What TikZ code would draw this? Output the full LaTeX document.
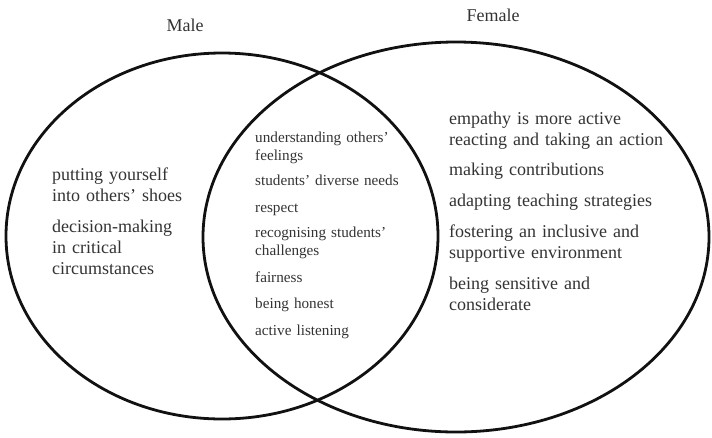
\documentclass[tikz,border=0pt]{standalone}
\usepackage{fontspec}
\setmainfont{Liberation Serif}
\usepackage{tikz}
\usetikzlibrary{positioning}
\definecolor{vennInk}{HTML}{111111}
\definecolor{vennText}{HTML}{333333}
\tikzset{
  conjunto/.style={draw=vennInk, line width=2.8pt},
  titulo/.style={font=\fontsize{18}{21}\selectfont, text=vennText, inner sep=0pt, anchor=base},
  lado/.style={font=\fontsize{18}{21}\selectfont, text=vennText, inner sep=0pt, anchor=base west, align=left, text width=#1},
  lado/.default=255pt,
  centro/.style={font=\fontsize{15.2}{18}\selectfont, text=vennText, inner sep=0pt, anchor=base west, align=left, text width=180pt},
}
\begin{document}
\begin{tikzpicture}[x=1pt, y=-1pt]
\useasboundingbox (0,0) rectangle (712,437);
% sets
\draw[conjunto] (222,236) ellipse [x radius=216pt, y radius=183pt];
\draw[conjunto] (456,237) ellipse [x radius=253pt, y radius=195pt];
\node[titulo] (male) at (185,31) {Male};
\node[titulo] (female) at (493,21) {Female};
% male only
\node[lado=150pt] (m1) at (52,180) {putting yourself\\into others’ shoes};
\node[lado=150pt] (m2) at (52,232) {decision-making\\in critical\\circumstances};
% both
\node[centro] (c1) at (255,142) {understanding others’\\feelings};
\node[centro] (c2) at (255,185) {students’ diverse needs};
\node[centro] (c3) at (255,212) {respect};
\node[centro] (c4) at (255,237) {recognising students’\\challenges};
\node[centro] (c5) at (255,282) {fairness};
\node[centro] (c6) at (255,308) {being honest};
\node[centro] (c7) at (255,335) {active listening};
% female only
\node[lado] (f1) at (449,124) {empathy is more active\\reacting and taking an action};
\node[lado] (f2) at (449,175) {making contributions};
\node[lado] (f3) at (449,206) {adapting teaching strategies};
\node[lado] (f4) at (449,237) {fostering an inclusive and\\supportive environment};
\node[lado] (f5) at (449,289) {being sensitive and\\considerate};
\end{tikzpicture}
\end{document}
